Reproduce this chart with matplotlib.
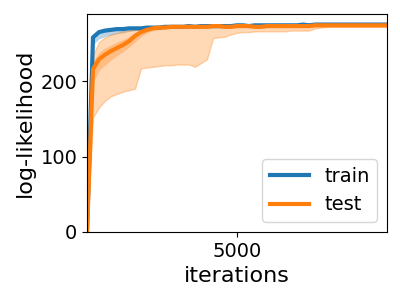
import numpy as np
import matplotlib
matplotlib.use("Agg")
import matplotlib.pyplot as plt

# evaluation every 200 iterations
iteraciones = np.arange(0, 10001, 200)

train_media = [0, 258, 265, 267, 268, 269, 269, 270, 270, 270,
               271, 271, 271, 272, 272, 272, 272, 273, 272, 273,
               273, 273, 273, 273, 273, 274, 274, 273, 274, 274,
               274, 274, 274, 274, 274, 274, 275, 274, 275, 275,
               275, 275, 275, 275, 275, 275, 275, 275, 275, 275, 275]
train_bajo = [0, 248, 256, 259, 261, 263, 264, 266, 267, 268,
              269, 269, 269, 270, 270, 270, 270, 271, 270, 271,
              271, 271, 271, 271, 271, 272, 272, 271, 272, 272,
              272, 272, 272, 272, 272, 272, 273, 272, 273, 273,
              273, 273, 273, 273, 273, 273, 273, 273, 273, 273, 273]
train_alto = [0, 262, 268, 269, 270, 270, 271, 271, 272, 272,
              272, 273, 273, 273, 273, 274, 274, 274, 274, 274,
              274, 274, 275, 275, 275, 275, 275, 275, 275, 275,
              276, 276, 276, 276, 276, 276, 276, 276, 276, 276,
              276, 276, 276, 276, 276, 276, 276, 276, 276, 276, 276]

test_media = [0, 216, 229, 235, 240, 244, 248, 253, 260, 265,
              268, 270, 271, 271, 272, 272, 272, 272, 272, 272,
              272, 273, 273, 272, 272, 273, 273, 273, 272, 272,
              273, 273, 273, 273, 273, 273, 273, 273, 274, 274,
              274, 274, 274, 274, 274, 274, 274, 274, 274, 274, 274]
# min / max over runs
test_min = [0, 152, 165, 174, 180, 183, 186, 188, 190, 217,
            218, 219, 220, 221, 221, 222, 222, 222, 219, 224,
            229, 257, 258, 259, 262, 264, 265, 265, 266, 266,
            266, 266, 266, 266, 267, 267, 267, 267, 270, 271,
            272, 272, 272, 272, 272, 272, 272, 272, 272, 272, 272]
test_max = [0, 235, 252, 258, 262, 264, 266, 267, 268, 269,
            270, 271, 272, 273, 273, 273, 273, 273, 273, 274,
            274, 274, 274, 274, 274, 275, 275, 275, 274, 274,
            275, 275, 275, 275, 275, 275, 275, 275, 276, 276,
            276, 276, 276, 276, 276, 276, 276, 276, 276, 276, 276]
# inner band (std)
test_bajo = [0, 198, 214, 221, 228, 234, 239, 245, 252, 259,
             264, 267, 268, 269, 270, 270, 270, 270, 270, 270,
             270, 271, 271, 270, 270, 271, 271, 271, 270, 270,
             271, 271, 271, 271, 271, 271, 271, 271, 272, 272,
             272, 272, 272, 272, 272, 272, 272, 272, 272, 272, 272]
test_alto = [0, 226, 238, 244, 248, 252, 255, 259, 264, 268,
             270, 272, 272, 273, 273, 273, 273, 273, 273, 273,
             273, 274, 274, 273, 273, 274, 274, 274, 273, 273,
             274, 274, 274, 274, 274, 274, 274, 274, 275, 275,
             275, 275, 275, 275, 275, 275, 275, 275, 275, 275, 275]

fig = plt.figure(figsize=(4, 3), dpi=100)
ax = fig.add_axes([0.2175, 0.2267, 0.75, 0.7266])

ax.fill_between(iteraciones, train_bajo, train_alto, color='C0', alpha=0.3, lw=0)
ax.fill_between(iteraciones, test_min, test_max, color='C1', alpha=0.3, lw=1)
ax.fill_between(iteraciones, test_bajo, test_alto, color='C1', alpha=0.3, lw=0)
ax.plot(iteraciones, train_media, color='C0', lw=3, label='train')
ax.plot(iteraciones, test_media, color='C1', lw=3, label='test')

ax.set_xlim(0, 10000)
ax.set_ylim(0, 289)
ax.set_xticks([5000])
ax.set_yticks([0, 100, 200])
ax.tick_params(labelsize=14)
ax.set_xlabel('iterations', fontsize=16)
ax.set_ylabel('log-likelihood', fontsize=16)
ax.legend(loc='lower right', fontsize=14)

fig.savefig('out.png', dpi=100)
